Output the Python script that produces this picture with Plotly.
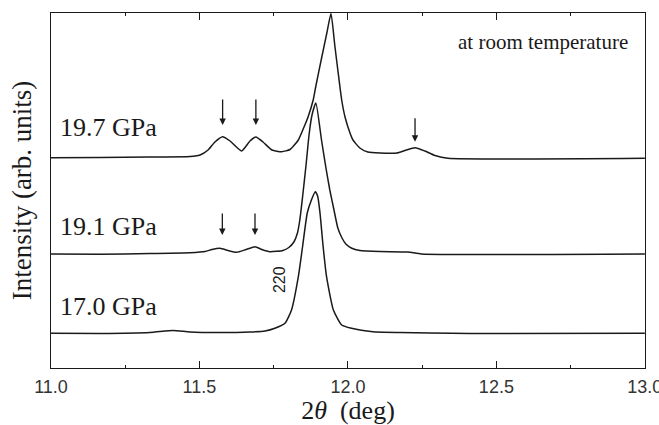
import plotly.graph_objects as go

# --- Diffraction profiles (2theta in deg, intensity in arbitrary units) ---
two_theta_197 = [11.000, 11.165, 11.333, 11.468, 11.502, 11.529, 11.552, 11.578, 11.603, 11.642,
                 11.670, 11.690, 11.714, 11.744, 11.777, 11.805, 11.833, 11.855, 11.866, 11.883,
                 11.892, 11.912, 11.929, 11.943, 11.956, 11.966, 11.979, 11.990, 12.007, 12.017,
                 12.040, 12.067, 12.108, 12.165, 12.192, 12.226, 12.259, 12.293, 12.337, 13.000]
intensity_197 = [210.3, 210.5, 211, 211.5, 213, 218, 226, 231.3, 227, 217,
                 227, 231, 226, 218, 216.3, 218.5, 228, 243, 251.3, 268,
                 282, 311, 335, 354.5, 322, 298, 268, 251.3, 235, 228,
                 220, 216, 215, 215, 217.5, 220.3, 217, 212.5, 209.7, 209.7]

two_theta_191 = [11.000, 11.165, 11.333, 11.468, 11.519, 11.542, 11.569, 11.596, 11.625, 11.657,
                 11.687, 11.710, 11.737, 11.781, 11.801, 11.818, 11.830, 11.838, 11.848, 11.859,
                 11.869, 11.879, 11.892, 11.911, 11.926, 11.939, 11.953, 11.966, 11.980, 11.993,
                 12.013, 12.040, 12.108, 12.202, 12.248, 13.000]
intensity_191 = [114, 113.7, 114.5, 115.3, 116.5, 118.5, 119.7, 117.5, 115.7, 118.5,
                 121.3, 118.5, 116.3, 117.5, 120.5, 126, 135, 148, 173, 203,
                 233, 253, 265, 228, 200, 178, 158, 140, 130, 124,
                 119.7, 117.5, 116.5, 116, 114, 114]

two_theta_170 = [11.000, 11.165, 11.333, 11.411, 11.468, 11.569, 11.670, 11.721, 11.754, 11.788,
                 11.810, 11.833, 11.848, 11.863, 11.877, 11.890, 11.898, 11.906, 11.916, 11.928,
                 11.951, 11.979, 12.012, 12.084, 12.175, 12.276, 12.411, 13.000]
intensity_170 = [34.7, 34.5, 35.5, 37.5, 36, 35.5, 36, 37, 39.7, 44.7,
                 58, 91.3, 123, 155, 168, 176.3, 172, 155, 123, 91.3,
                 58, 43, 39.7, 36.3, 35.5, 35, 34.5, 34.7]

pressure_labels = ["19.7 GPa", "19.1 GPa", "17.0 GPa"]
label_levels = [241, 141.3, 61.3]

# Extra reflections marked with arrows (position, intensity at arrow tip, arrow length px)
arrow_pos = [11.578, 11.690, 12.226, 11.577, 11.687]
arrow_tip = [243, 243, 226.3, 133, 133]
arrow_len = [27, 27, 25, 23, 23]

x_ticks = [11.0, 11.5, 12.0, 12.5, 13.0]
x_tick_text = ["11.0", "11.5", "12.0", "12.5", "13.0"]

INK = "#1a1a1a"
SERIF = "Liberation Serif"
SANS = "Liberation Sans"

fig = go.Figure()
for xs, ys in [(two_theta_197, intensity_197), (two_theta_191, intensity_191),
               (two_theta_170, intensity_170)]:
    fig.add_trace(go.Scatter(x=xs, y=ys, mode="lines",
                             line=dict(color=INK, width=1.5, shape="spline", smoothing=0.5),
                             showlegend=False, hoverinfo="skip"))

annotations = []
for txt, lvl in zip(pressure_labels, label_levels):
    annotations.append(dict(x=11.022, y=lvl, xref="x", yref="y", text=txt, showarrow=False,
                            xanchor="left", yanchor="middle",
                            font=dict(family=SERIF, size=26, color=INK)))

for xp, yt, ln in zip(arrow_pos, arrow_tip, arrow_len):
    annotations.append(dict(x=xp, y=yt, xref="x", yref="y", ax=0, ay=-ln, text="",
                            showarrow=True, arrowhead=2, arrowsize=1.0, arrowwidth=1.3,
                            arrowcolor=INK, standoff=0))

annotations.append(dict(x=12.95, y=326, xref="x", yref="y", text="at room temperature",
                        showarrow=False, xanchor="right", yanchor="middle",
                        font=dict(family=SERIF, size=21, color=INK)))
annotations.append(dict(x=11.768, y=88, xref="x", yref="y", text="220", textangle=-90,
                        showarrow=False, xanchor="center", yanchor="middle",
                        font=dict(family=SANS, size=16, color=INK)))

fig.update_layout(
    width=659, height=425,
    margin=dict(l=51, r=14, t=13, b=57, autoexpand=False),
    paper_bgcolor="white", plot_bgcolor="white",
    annotations=annotations,
    xaxis=dict(range=[11.0, 13.0005], tickvals=x_ticks, ticktext=x_tick_text,
               ticks="inside", ticklen=7, tickwidth=1.2, tickcolor=INK,
               minor=dict(dtick=0.25, ticks="inside", ticklen=3, tickcolor=INK, tickwidth=1.2),
               showline=True, linecolor=INK, linewidth=1.4, mirror="ticks",
               showgrid=False, zeroline=False, ticklabelstandoff=2, automargin=False,
               ticklabeloverflow="allow",
               tickfont=dict(family=SANS, size=18, color="#333333"),
               title=dict(text="2<i>θ</i>  (deg)", standoff=8,
                          font=dict(family=SERIF, size=26, color=INK))),
    yaxis=dict(range=[0, 355], showticklabels=False, ticks="", automargin=False,
               showline=True, linecolor=INK, linewidth=1.4, mirror=True,
               showgrid=False, zeroline=False,
               title=dict(text="Intensity (arb. units)", standoff=10,
                          font=dict(family=SERIF, size=27, color=INK))),
)

fig.write_html("out.html")
